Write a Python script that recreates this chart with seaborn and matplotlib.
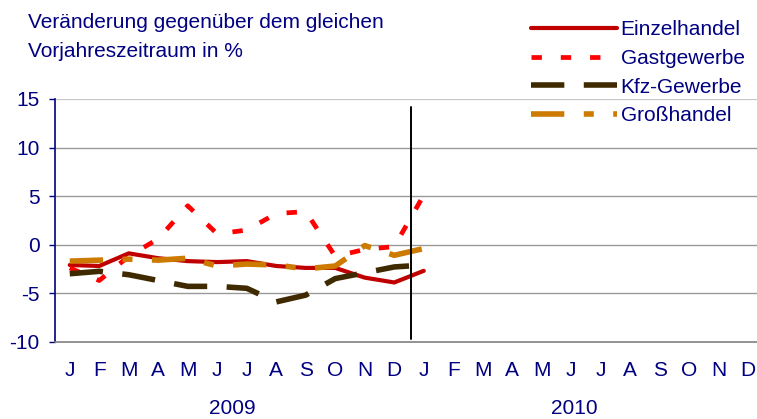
import numpy as np
import pandas as pd
import seaborn as sns
import matplotlib.pyplot as plt
from matplotlib.lines import Line2D
from matplotlib.transforms import blended_transform_factory

# values, Jan 2009 .. Jan 2010
months = ["J", "F", "M", "A", "M", "J", "J", "A", "S", "O", "N", "D"] * 2
years = ["2009", "2010"]
einzelhandel = [-2.1, -2.2, -0.9, -1.4, -1.7, -1.8, -1.7, -2.2, -2.4, -2.4, -3.4, -3.9, -2.7]
gastgewerbe = [-2.4, -3.7, -1.2, 0.6, 4.0, 1.1, 1.5, 3.2, 3.4, -1.2, -0.5, -0.2, 5.1]
kfz_gewerbe = [-3.0, -2.75, -3.1, -3.7, -4.3, -4.3, -4.5, -5.9, -5.2, -3.5, -2.9, -2.3, -2.1]
grosshandel = [-1.7, -1.6, -1.5, -1.6, -1.4, -2.2, -2.0, -2.1, -2.5, -2.2, -0.1, -1.1, -0.4]

navy = "#000080"
fs = 15
series = [
    ("Einzelhandel", einzelhandel, "#C00000", 3.0, "-"),
    ("Gastgewerbe", gastgewerbe, "#FF0000", 3.4, (0, (2.2, 4.0))),
    ("Kfz-Gewerbe", kfz_gewerbe, "#3F2A00", 4.0, (0, (6.0, 3.5))),
    ("Großhandel", grosshandel, "#CC7A00", 4.0, (0, (6.0, 3.5, 1.8, 3.5))),
]

sns.set_style("white")
plt.rcParams["font.family"] = ["Liberation Sans", "DejaVu Sans"]

fig = plt.figure(figsize=(7.57, 4.19), dpi=100)
ax = fig.add_axes([55 / 757, 1 - 341.7 / 419, 708 / 757, (341.7 - 99) / 419])

x = np.arange(len(einzelhandel))
handles = []
for name, vals, color, lw, ls in series:
    df = pd.DataFrame({"x": x, "y": vals})
    sns.lineplot(data=df, x="x", y="y", ax=ax, color=color, linewidth=lw,
                 linestyle=ls, solid_capstyle="round", dash_capstyle="butt",
                 solid_joinstyle="miter", legend=False, zorder=3)
    handles.append(Line2D([], [], color=color, linewidth=lw, linestyle=ls,
                          solid_capstyle="round", dash_capstyle="butt", label=name))

ax.set_xlim(-0.5, 23.5)
ax.set_ylim(-10, 15)

for yv in [-5, 0, 5, 10]:
    ax.axhline(yv, color="#999999", linewidth=1.0, zorder=1)
ax.axhline(15, color="#c8c8c8", linewidth=1.6, zorder=1)
ax.plot([11.58, 11.58], [-9.7, 14.2], color="black", linewidth=1.4, zorder=4)

ax.set_yticks([-10, -5, 0, 5, 10, 15])
ax.set_yticklabels(["-10", "-5", "0", "5", "10", "15"])
ax.set_xticks(np.arange(-0.5, 24, 1))
ax.set_xticklabels([])
ax.set_xticks(np.arange(24), minor=True)
ax.set_xticklabels(months, minor=True)
ax.tick_params(axis="x", which="major", direction="out", length=4, width=1, color="#808080")
ax.tick_params(axis="x", which="minor", length=0, pad=14, labelsize=fs, labelcolor=navy)
ax.tick_params(axis="y", direction="out", length=4, width=1, color=navy, pad=7,
               labelsize=fs, labelcolor=navy, left=True)
ax.set_xlabel("")
ax.set_ylabel("")

for side in ["top", "right"]:
    ax.spines[side].set_visible(False)
ax.spines["left"].set_color(navy)
ax.spines["left"].set_linewidth(1.2)
ax.spines["bottom"].set_color("#808080")
ax.spines["bottom"].set_linewidth(1.2)

trans = blended_transform_factory(ax.transData, fig.transFigure)
ax.text(5.5, 1 - 408 / 419, years[0], transform=trans, ha="center", va="center",
        fontsize=fs, color=navy)
ax.text(17.1, 1 - 408 / 419, years[1], transform=trans, ha="center", va="center",
        fontsize=fs, color=navy)

fig.text(28 / 757, 1 - 28 / 419, "Veränderung gegenüber dem gleichen", fontsize=fs,
         color=navy, ha="left", va="baseline")
fig.text(28 / 757, 1 - 57 / 419, "Vorjahreszeitraum in %", fontsize=fs,
         color=navy, ha="left", va="baseline")

fig.legend(handles=handles, loc="upper left", bbox_to_anchor=(529 / 757, 1 - 18 / 419),
           frameon=False, fontsize=fs, labelcolor=navy, handlelength=4.1,
           handletextpad=0.2, labelspacing=0.47, borderaxespad=0, borderpad=0.1)

fig.savefig("out.png", dpi=100)
